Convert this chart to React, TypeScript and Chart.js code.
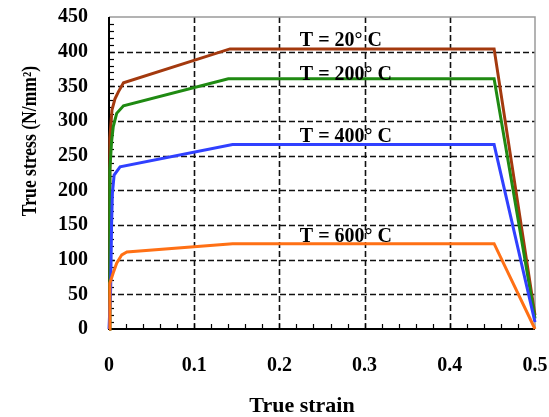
import React, { useEffect, useRef } from "react";
import { Chart, registerables } from "chart.js";

Chart.register(...registerables);

// True strain / true stress (N/mm²)
const strain20 = [0, 0.001, 0.0035, 0.007, 0.011, 0.017, 0.142, 0.452, 0.5];
const stress20 = [0, 275, 316, 332, 342, 355, 404, 404, 20];
const strain200 = [0, 0.001, 0.003, 0.005, 0.009, 0.017, 0.14, 0.452, 0.5];
const stress200 = [0, 230, 270, 292, 311, 322, 361, 361, 15];
const strain400 = [0, 0.002, 0.003, 0.004, 0.006, 0.013, 0.145, 0.452, 0.5];
const stress400 = [0, 60, 150, 196, 222, 234, 266, 266, 10];
const strain600 = [0, 0.001, 0.005, 0.009, 0.015, 0.021, 0.145, 0.452, 0.5];
const stress600 = [0, 66, 81, 95, 107, 111, 123, 123, 0];

const seriesLabels = ["T = 20° C", "T = 200° C", "T = 400° C", "T = 600° C"];
const seriesColors = ["#a3390e", "#1f8a12", "#3040ff", "#ff7015"];

const xTicks = [0, 0.1, 0.2, 0.3, 0.4, 0.5];
const yTicks = [0, 50, 100, 150, 200, 250, 300, 350, 400, 450];
const xTickLabels = ["0", "0.1", "0.2", "0.3", "0.4", "0.5"];

const xTitle = "True strain";
const yTitle = "True stress (N/mm²)";

// label anchors (data units): left edge strain, baseline stress
const labelAnchorX = 0.224;
const labelAnchorY = [408, 359, 270, 126];

const FONT = "'Liberation Serif', 'Times New Roman', serif";

function pts(xs: number[], ys: number[]) {
  return xs.map((x, i) => ({ x, y: ys[i] }));
}

const decor = {
  id: "decor",
  beforeDatasetsDraw(chart: any) {
    const { ctx, chartArea } = chart;
    const { left, right, top, bottom } = chartArea;
    const xs = chart.scales.x;
    const ys = chart.scales.y;
    ctx.save();
    // dashed grid
    ctx.strokeStyle = "#111";
    ctx.lineWidth = 1.6;
    ctx.setLineDash([6, 3]);
    xTicks.slice(1, -1).forEach((v) => {
      const px = Math.round(xs.getPixelForValue(v)) + 0.5;
      ctx.beginPath();
      ctx.moveTo(px, top);
      ctx.lineTo(px, bottom);
      ctx.stroke();
    });
    yTicks.slice(1, -1).forEach((v) => {
      const py = Math.round(ys.getPixelForValue(v)) + 0.5;
      ctx.beginPath();
      ctx.moveTo(left, py);
      ctx.lineTo(right, py);
      ctx.stroke();
    });
    ctx.setLineDash([]);
    // gray top/right frame
    ctx.strokeStyle = "#9a9a9a";
    ctx.lineWidth = 1.5;
    ctx.beginPath();
    ctx.moveTo(left, top);
    ctx.lineTo(right, top);
    ctx.lineTo(right, bottom);
    ctx.stroke();
    // black left/bottom axes
    ctx.strokeStyle = "#000";
    ctx.lineWidth = 2;
    ctx.beginPath();
    ctx.moveTo(left, top);
    ctx.lineTo(left, bottom);
    ctx.lineTo(right, bottom);
    ctx.stroke();
    // inward minor ticks
    ctx.lineWidth = 1.2;
    for (let v = 10; v < 450; v += 10) {
      const py = Math.round(ys.getPixelForValue(v)) + 0.5;
      ctx.beginPath();
      ctx.moveTo(left, py);
      ctx.lineTo(left + 5, py);
      ctx.stroke();
    }
    for (let i = 1; i < 25; i++) {
      const px = Math.round(xs.getPixelForValue(i * 0.02)) + 0.5;
      ctx.beginPath();
      ctx.moveTo(px, bottom);
      ctx.lineTo(px, bottom - 5);
      ctx.stroke();
    }
    ctx.restore();
  },
  afterDatasetsDraw(chart: any) {
    const { ctx, chartArea } = chart;
    const xs = chart.scales.x;
    const ys = chart.scales.y;
    ctx.save();
    ctx.fillStyle = "#000";
    ctx.font = `bold 20px ${FONT}`;
    ctx.textBaseline = "alphabetic";
    ctx.textAlign = "left";
    seriesLabels.forEach((t, i) => {
      ctx.fillText(t, xs.getPixelForValue(labelAnchorX), ys.getPixelForValue(labelAnchorY[i]));
    });
    // x title
    ctx.font = `bold 22px ${FONT}`;
    ctx.textAlign = "center";
    ctx.fillText(xTitle, (chartArea.left + chartArea.right) / 2 - 20, 412);
    // y title (rotated)
    ctx.translate(36, 141);
    ctx.rotate(-Math.PI / 2);
    ctx.scale(0.88, 1);
    ctx.font = `bold 20px ${FONT}`;
    ctx.textAlign = "center";
    ctx.fillText(yTitle, 0, 0);
    ctx.restore();
  },
};

function zeroPadding(s: any) {
  s.paddingTop = 0;
  s.paddingBottom = 0;
  s.paddingLeft = 0;
  s.paddingRight = 0;
}

export default function App() {
  const ref = useRef<HTMLCanvasElement | null>(null);
  useEffect(() => {
    document.body.style.margin = "0";
    const canvas = ref.current;
    if (!canvas) return;
    const series = [
      pts(strain20, stress20),
      pts(strain200, stress200),
      pts(strain400, stress400),
      pts(strain600, stress600),
    ];
    const chart = new Chart(canvas, {
      type: "line",
      data: {
        datasets: series.map((d, i) => ({
          label: seriesLabels[i],
          data: d,
          borderColor: seriesColors[i],
          backgroundColor: seriesColors[i],
          borderWidth: 3,
          pointRadius: 0,
          tension: 0,
          fill: false,
          clip: false,
          order: 3 - i,
        })),
      },
      options: {
        animation: false,
        responsive: false,
        devicePixelRatio: 1,
        layout: { padding: { top: 17, right: 14, left: 0, bottom: 0 } },
        plugins: { legend: { display: false }, tooltip: { enabled: false } },
        scales: {
          x: {
            type: "linear",
            min: 0,
            max: 0.5,
            afterFit: (s: any) => {
              s.height = 88;
              zeroPadding(s);
            },
            afterBuildTicks: (s: any) => {
              s.ticks = xTicks.map((v) => ({ value: v }));
            },
            ticks: {
              autoSkip: false,
              maxRotation: 0,
              padding: 25,
              color: "#000",
              font: { family: FONT, size: 20, weight: "bold" },
              callback: (_v: any, i: number) => xTickLabels[i],
            },
            grid: { display: false, drawTicks: false },
            border: { display: false },
          },
          y: {
            type: "linear",
            min: 0,
            max: 450,
            afterFit: (s: any) => {
              s.width = 109;
              zeroPadding(s);
            },
            afterBuildTicks: (s: any) => {
              s.ticks = yTicks.map((v) => ({ value: v }));
            },
            ticks: {
              autoSkip: false,
              padding: 21,
              color: "#000",
              font: { family: FONT, size: 20, weight: "bold" },
              callback: (v: any) => String(v),
            },
            grid: { display: false, drawTicks: false },
            border: { display: false },
          },
        },
      },
      plugins: [decor],
    } as any);
    return () => chart.destroy();
  }, []);
  return (
    <div style={{ position: "absolute", left: 0, top: 0, width: 549, height: 417 }}>
      <canvas ref={ref} width={549} height={417} />
    </div>
  );
}
